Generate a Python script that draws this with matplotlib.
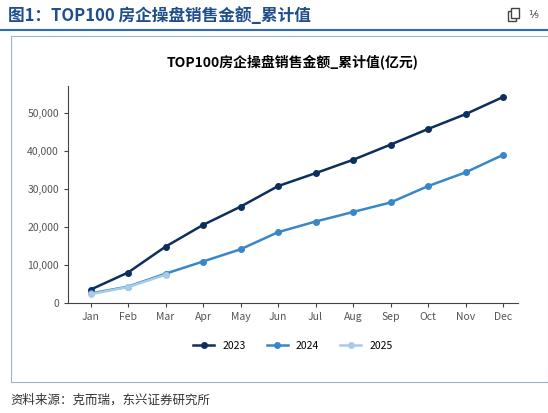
import matplotlib
matplotlib.use("Agg")
import matplotlib.pyplot as plt
from matplotlib.lines import Line2D
from matplotlib.patches import Rectangle

plt.rcParams['font.family'] = ['Noto Sans CJK SC', 'DejaVu Sans']

months = ["Jan", "Feb", "Mar", "Apr", "May", "Jun", "Jul", "Aug", "Sep", "Oct", "Nov", "Dec"]
sales_2023 = [3500, 8000, 14800, 20500, 25300, 30700, 34100, 37600, 41600, 45700, 49600, 54100]
sales_2024 = [2500, 4300, 7700, 10900, 14100, 18600, 21400, 23900, 26400, 30700, 34300, 38900]
sales_2025 = [2300, 4200, 7400]
yticks = [0, 10000, 20000, 30000, 40000, 50000]

W, H = 548, 413
fig = plt.figure(figsize=(W / 100, H / 100), dpi=100)

def box(px0, py0, px1, py1):
    return [px0 / W, 1 - py1 / H, (px1 - px0) / W, (py1 - py0) / H]

# header
fig.text(8 / W, 1 - 16 / H, "图1：TOP100 房企操盘销售金额_累计值", color="#1f4e8c",
         fontsize=12, fontweight="bold", va="center")
fig.add_artist(Line2D([0, 1], [1 - 30 / H, 1 - 30 / H], color="#2e6db4", lw=1.5))
# copy icon drawn as two offset squares
for dx, dy in [(0, 0), (3, -3)]:
    fig.add_artist(Rectangle(((508 + dx) / W, 1 - (21 + dy) / H), 8 / W, 10 / H,
                             transform=fig.transFigure, fill=True, fc="white",
                             ec="#444444", lw=1))
fig.text(528 / W, 1 - 15 / H, "⅟₉", fontsize=8, color="#444444", va="center",
         family=["DejaVu Sans"])
fig.add_artist(Rectangle((11 / W, 1 - 382 / H), 537 / W, 346 / H, transform=fig.transFigure,
                         fill=False, ec="#9fb3c8", lw=0.8))
fig.text(10 / W, 1 - 400 / H, "资料来源：克而瑞，东兴证券研究所", fontsize=9, style="italic",
         color="#333333", va="center")

ax = fig.add_axes(box(68, 86, 518, 303))
x = list(range(len(months)))
ax.plot(x, sales_2023, color="#0d2f5e", lw=1.8, marker="o", ms=4, label="2023")
ax.plot(x, sales_2024, color="#3a87c8", lw=1.8, marker="o", ms=4, label="2024")
ax.plot(x[:len(sales_2025)], sales_2025, color="#a9cbeb", lw=1.8, marker="o", ms=4, label="2025")

ax.set_xlim(-0.6, 11.4)
ax.set_ylim(0, 57000)
ax.set_yticks(yticks)
ax.set_yticklabels([f"{v:,}" for v in yticks], fontsize=7.5, color="#555555")
ax.set_xticks(x)
ax.set_xticklabels(months, fontsize=7.5, color="#555555")
for s in ["top", "right"]:
    ax.spines[s].set_visible(False)
for s in ["left", "bottom"]:
    ax.spines[s].set_color("#444444")
ax.tick_params(length=3, color="#444444")
ax.set_title("TOP100房企操盘销售金额_累计值(亿元)", fontsize=10, fontweight="bold", pad=14)
ax.legend(loc="upper center", bbox_to_anchor=(0.5, -0.13), ncol=3, frameon=False,
          fontsize=7.5, handlelength=2)

fig.savefig("out.png", dpi=100)
